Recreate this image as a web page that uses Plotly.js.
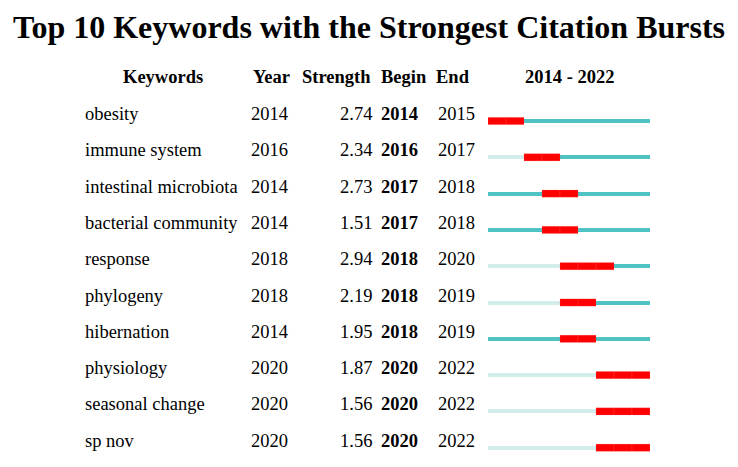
<!DOCTYPE html>
<html><head><meta charset="utf-8">
<script src="https://cdn.plot.ly/plotly-3.0.1.min.js"></script>
<style>html,body{margin:0;padding:0;background:#fff}</style>
</head><body><div id="chart" style="width:738px;height:467px"></div>
<script>
const keywords = ['obesity','immune system','intestinal microbiota','bacterial community','response','phylogeny','hibernation','physiology','seasonal change','sp nov'];
const years = [2014,2016,2014,2014,2018,2018,2014,2020,2020,2020];
const strength = [2.74,2.34,2.73,1.51,2.94,2.19,1.95,1.87,1.56,1.56];
const begins = [2014,2016,2017,2017,2018,2018,2018,2020,2020,2020];
const ends = [2015,2017,2018,2018,2020,2019,2019,2022,2022,2022];
const firstYear = 2014, lastYear = 2022;
const headers = ['Keywords','Year','Strength','Begin','End','2014 - 2022'];

const FONT = 'Liberation Serif, Times New Roman, serif';
const rows = keywords.map((k,i)=>i);

const light = {type:'bar', orientation:'h', y:rows, base:years.map(()=>firstYear),
  x:years.map(y=>y-firstYear), width:0.11, marker:{color:'#d3ecec'}, hoverinfo:'skip', showlegend:false};
const teal = {type:'bar', orientation:'h', y:rows, base:years,
  x:years.map(y=>lastYear+1-y), width:0.11, marker:{color:'#4fc3c3'}, hoverinfo:'skip', showlegend:false};
const ry=[], rb=[];
keywords.forEach((k,i)=>{ for(let y=begins[i]; y<=ends[i]; y++){ ry.push(i); rb.push(y);} });
const red = {type:'bar', orientation:'h', y:ry, base:rb, x:rb.map(()=>1), width:0.2,
  marker:{color:'#ff0000', line:{color:'rgba(255,120,120,0.5)', width:0.4}}, hoverinfo:'skip', showlegend:false};

const H=467, rowPitch=36.3, firstBarPx=121;
const yTop = -firstBarPx/rowPitch, yBot = yTop + H/rowPitch;

const ann = [];
const FS = 18.5;
const tf = {family:FONT, size:FS, color:'#000'};
keywords.forEach((k,i)=>{
  const common = {xref:'paper', yref:'y', y:i, yshift:7, showarrow:false, yanchor:'middle'};
  ann.push(Object.assign({}, common, {x:83/738, xanchor:'left', text:k, font:tf}));
  ann.push(Object.assign({}, common, {x:249/738, xanchor:'left', text:String(years[i]), font:tf}));
  ann.push(Object.assign({}, common, {x:374/738, xanchor:'right', text:strength[i].toFixed(2), font:tf}));
  ann.push(Object.assign({}, common, {x:379/738, xanchor:'left', text:'<b>'+begins[i]+'</b>', font:tf}));
  ann.push(Object.assign({}, common, {x:436/738, xanchor:'left', text:String(ends[i]), font:tf}));
});
const hx = [163, 271, 336, 404, 453, 569];
headers.forEach((h,j)=>{
  ann.push({xref:'paper', yref:'paper', x:hx[j]/738, y:1-77/H, xanchor:'center', yanchor:'middle',
    showarrow:false, text:'<b>'+h+'</b>', font:tf});
});

const layout = {
  width:738, height:467, margin:{l:0,r:0,t:0,b:0},
  paper_bgcolor:'#fff', plot_bgcolor:'#fff',
  title:{text:'<b>Top 10 Keywords with the Strongest Citation Bursts</b>', x:0.5, xanchor:'center',
    y:1-27/H, yanchor:'middle', yref:'paper', font:{family:FONT, size:32, color:'#000'}},
  barmode:'overlay', bargap:0,
  xaxis:{domain:[488/738, 650/738], range:[firstYear, lastYear+1], showgrid:false, zeroline:false,
    showticklabels:false, showline:false, fixedrange:true},
  yaxis:{domain:[0,1], range:[yBot, yTop], showgrid:false, zeroline:false, showticklabels:false,
    showline:false, fixedrange:true},
  annotations:ann, showlegend:false
};
Plotly.newPlot('chart', [light, teal, red], layout, {staticPlot:true, displayModeBar:false});
</script></body></html>
